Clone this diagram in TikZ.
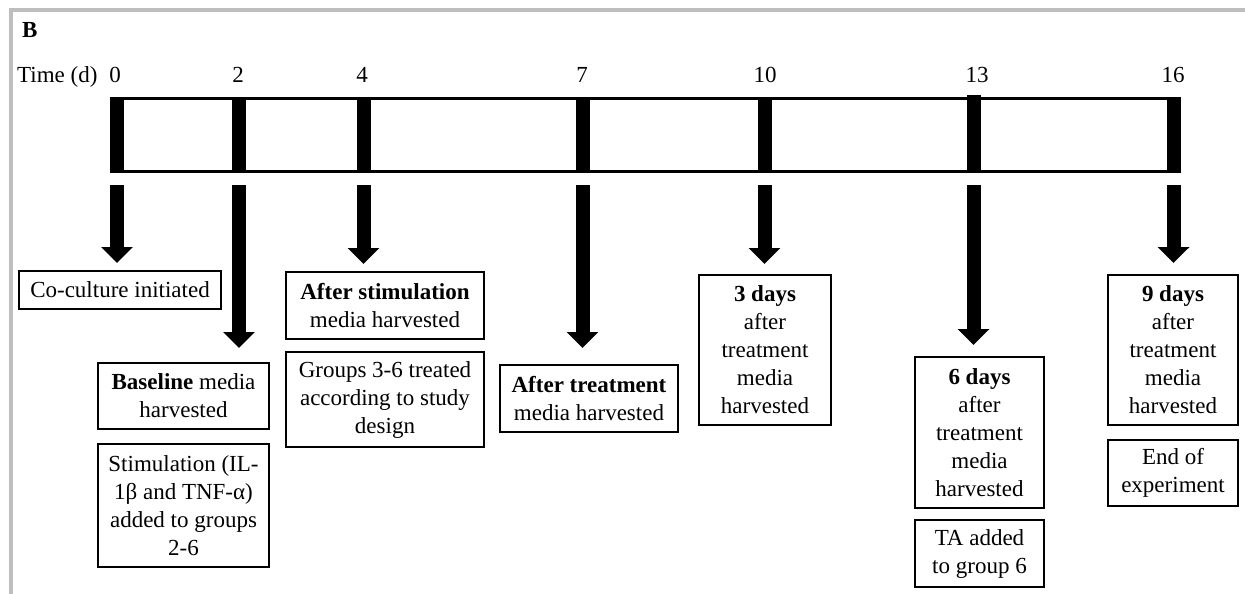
\documentclass[tikz,border=0pt]{standalone}
\usepackage{fontspec}
\setmainfont{Liberation Serif}
\usetikzlibrary{arrows.meta}
\definecolor{framegray}{RGB}{190,190,190}
\begin{document}
\begin{tikzpicture}[x=1pt,y=-1pt,
  lbl/.style={font=\fontsize{23}{28}\selectfont, inner sep=0pt},
  tickbar/.style={fill=black, inner sep=0pt, minimum width=14pt, minimum height=76pt},
  infobox/.style={draw=black, line width=1.4pt, align=center, inner sep=0pt,
                  font=\fontsize{23}{28}\selectfont},
  bigarrow/.style={line width=14pt, -{Triangle[width=31pt,length=16pt]}},
]
\useasboundingbox (0,0) rectangle (1245,594);
% frame
\draw[framegray, line width=3.5pt, line join=miter] (10.8,594) -- (10.8,10) -- (1245,10);
% panel letter and axis label
\node[lbl, anchor=base west, font=\fontsize{23}{28}\selectfont\bfseries] (panel) at (22,38) {B};
\node[lbl, anchor=base west] (timelbl) at (17,82) {Time (d)};
% day labels
\node[lbl, anchor=base] (d0) at (115,82) {0};
\node[lbl, anchor=base] (d2) at (238,82) {2};
\node[lbl, anchor=base] (d4) at (362,82) {4};
\node[lbl, anchor=base] (d7) at (582,82) {7};
\node[lbl, anchor=base] (d10) at (765,82) {10};
\node[lbl, anchor=base] (d13) at (977,82) {13};
\node[lbl, anchor=base] (d16) at (1173,82) {16};
% timeline frame
\draw[line width=3pt] (117,98.5) rectangle (1173,171.5);
% ticks
\node[tickbar] (t0) at (117,135) {};
\node[tickbar] (t2) at (239,135) {};
\node[tickbar] (t4) at (363.5,135) {};
\node[tickbar] (t7) at (582.5,135) {};
\node[tickbar] (t10) at (764.5,135) {};
\node[tickbar, minimum height=78pt] (t13) at (973.5,134) {};
\node[tickbar] (t16) at (1173.5,135) {};
% boxes
\node[infobox, minimum width=202pt, minimum height=38pt] (b0) at (120,290) {Co-culture initiated};
\node[infobox, minimum width=171pt, minimum height=66pt] (b2a) at (183.5,396) {\textbf{Baseline} media\\harvested};
\node[infobox, minimum width=171pt, minimum height=123pt] (b2b) at (183.5,505.5) {Stimulation (IL-\\1β and TNF-α)\\added to groups\\2-6};
\node[infobox, minimum width=198pt, minimum height=67pt] (b4a) at (385,305.5) {\textbf{After stimulation}\\media harvested};
\node[infobox, minimum width=198pt, minimum height=95pt] (b4b) at (385,399.5) {Groups 3-6 treated\\according to study\\design};
\node[infobox, minimum width=178pt, minimum height=67pt] (b7) at (589,398.5) {\textbf{After treatment}\\media harvested};
\node[infobox, minimum width=132pt, minimum height=150pt] (b10) at (765,350) {\textbf{3 days}\\after\\treatment\\media\\harvested};
\node[infobox, minimum width=129pt, minimum height=151pt] (b13a) at (979.5,432.5) {\textbf{6 days}\\after\\treatment\\media\\harvested};
\node[infobox, minimum width=129pt, minimum height=67pt] (b13b) at (979.5,553.5) {TA added\\to group 6};
\node[infobox, minimum width=130pt, minimum height=150pt] (b16a) at (1173,350) {\textbf{9 days}\\after\\treatment\\media\\harvested};
\node[infobox, minimum width=130pt, minimum height=66pt] (b16b) at (1173,473) {End of\\experiment};
% arrow tips
\coordinate (e0) at (117,263);
\coordinate (e2) at (239,348);
\coordinate (e4) at (363.5,264);
\coordinate (e7) at (582.5,348);
\coordinate (e10) at (764.5,264);
\coordinate (e13) at (973.5,345);
\coordinate (e16) at (1173.5,263);
% arrows
\draw[bigarrow] ([yshift=-12pt]t0.south) -- (e0);
\draw[bigarrow] ([yshift=-12pt]t2.south) -- (e2);
\draw[bigarrow] ([yshift=-12pt]t4.south) -- (e4);
\draw[bigarrow] ([yshift=-12pt]t7.south) -- (e7);
\draw[bigarrow] ([yshift=-12pt]t10.south) -- (e10);
\draw[bigarrow] ([yshift=-12pt]t13.south) -- (e13);
\draw[bigarrow] ([yshift=-12pt]t16.south) -- (e16);
\end{tikzpicture}
\end{document}
